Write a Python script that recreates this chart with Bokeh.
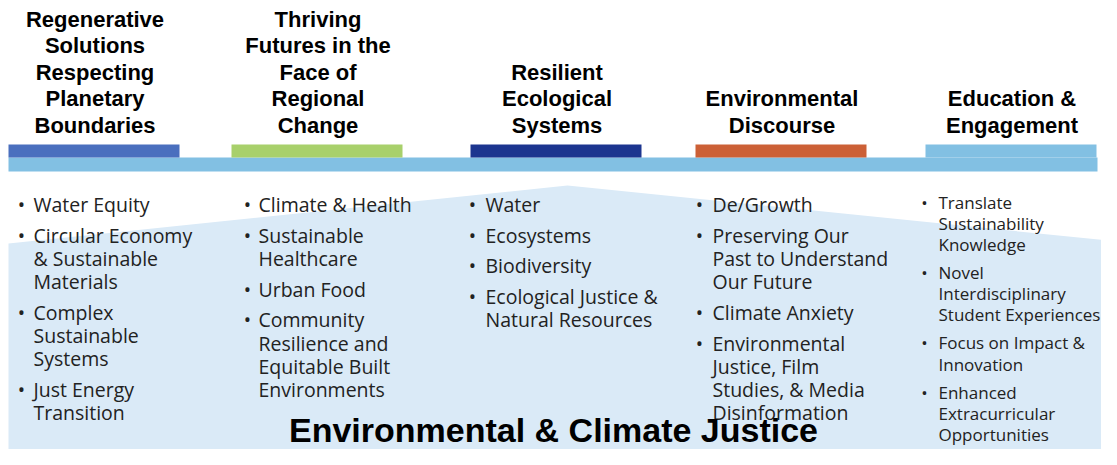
from bokeh.plotting import figure
from bokeh.models import Range1d
from bokeh.core.properties import value
from bokeh.embed import file_html
from bokeh.resources import INLINE

# ---------------- data ----------------
themes = [
    ["Regenerative", "Solutions", "Respecting", "Planetary", "Boundaries"],
    ["Thriving", "Futures in the", "Face of", "Regional", "Change"],
    ["Resilient", "Ecological", "Systems"],
    ["Environmental", "Discourse"],
    ["Education &", "Engagement"],
]
theme_colors = ["#4A6FBE", "#A8D06B", "#1C358F", "#CC6036", "#82C0E3"]

items = [
    [["Water Equity"], ["Circular Economy", "& Sustainable", "Materials"],
     ["Complex", "Sustainable", "Systems"], ["Just Energy", "Transition"]],
    [["Climate & Health"], ["Sustainable", "Healthcare"], ["Urban Food"],
     ["Community", "Resilience and", "Equitable Built", "Environments"]],
    [["Water"], ["Ecosystems"], ["Biodiversity"],
     ["Ecological Justice &", "Natural Resources"]],
    [["De/Growth"], ["Preserving Our", "Past to Understand", "Our Future"],
     ["Climate Anxiety"],
     ["Environmental", "Justice, Film", "Studies, & Media", "Disinformation"]],
    [["Translate", "Sustainability", "Knowledge"],
     ["Novel", "Interdisciplinary", "Student Experiences"],
     ["Focus on Impact &", "Innovation"],
     ["Enhanced", "Extracurricular", "Opportunities"]],
]
foundation = "Environmental & Climate Justice"

# ---------------- layout ----------------
BAR_LEFT = [8, 231, 470, 695, 925]
BAR_W = 171
BAR_TOP, BAR_BOT = 144, 157
BAND_L, BAND_R, BAND_TOP, BAND_BOT = 8, 1097, 157, 171
BULLET_X = [21, 247, 472, 699, 924]
TEXT_X = [33, 258, 485, 712, 938]
FONT_PX = [19.5, 19.5, 19.5, 19.5, 17]
LINE_H = [23.2, 23.2, 23.2, 23.2, 21.2]
ITEM_GAP = [7.5, 7.5, 7.5, 7.5, 6.8]
FIRST_BASE = [211.5, 211.5, 211.5, 211.5, 208]
HEAD_LAST_BASE = 133
HEAD_LINE_H = 26.5
HEAD_PX = 22
TITLE_PX = 34
K = 0.38  # baseline correction, fraction of font size


def base(y, px):
    return y - K * px


p = figure(width=1101, height=449, output_backend="svg", toolbar_location=None,
           x_range=Range1d(0, 1101), y_range=Range1d(449, 0),
           min_border=0, outline_line_color=None, background_fill_color="white")
p.axis.visible = False
p.grid.visible = False

# light blue foundation shape
p.patch([8, 567, 1117, 1117, 8], [243, 185, 241, 480, 480],
        fill_color="#DAEAF7", line_color=None)

# band
p.quad(left=[BAND_L], right=[BAND_R], top=[BAND_TOP], bottom=[BAND_BOT],
       fill_color="#82C0E3", line_color=None)
# theme bars
p.quad(left=BAR_LEFT, right=[b + BAR_W for b in BAR_LEFT],
       top=[BAR_TOP] * 5, bottom=[BAR_BOT] * 5,
       fill_color=theme_colors, line_color=None)

# headers
hx, hy, ht = [], [], []
for i, lines in enumerate(themes):
    cx = BAR_LEFT[i] + BAR_W / 2 + 1
    n = len(lines)
    for j, ln in enumerate(lines):
        hx.append(cx)
        hy.append(base(HEAD_LAST_BASE - (n - 1 - j) * HEAD_LINE_H, HEAD_PX))
        ht.append(ln)
p.text(x=hx, y=hy, text=ht, text_font=value("Liberation Sans"),
       text_font_style="bold", text_font_size=f"{HEAD_PX}px", text_color="#000000",
       text_align="center", text_baseline="alphabetic")

# bullet lists
for c, col in enumerate(items):
    bx, by, tx, ty, tt = [], [], [], [], []
    y = FIRST_BASE[c]
    px = FONT_PX[c]
    for item in col:
        bx.append(BULLET_X[c]); by.append(base(y, px))
        for ln in item:
            tx.append(TEXT_X[c]); ty.append(base(y, px)); tt.append(ln)
            y += LINE_H[c]
        y += ITEM_GAP[c]
    fs = f"{px}px"
    p.text(x=bx, y=by, text=["\u2022"] * len(bx), text_font=value("Open Sans"),
           text_font_size=fs, text_color="#222222", text_align="center",
           text_baseline="alphabetic")
    p.text(x=tx, y=ty, text=tt, text_font=value("Open Sans"),
           text_font_size=fs, text_color="#222222", text_align="left",
           text_baseline="alphabetic")

# foundation title
p.text(x=[553], y=[base(442, TITLE_PX)], text=[foundation],
       text_font=value("Liberation Sans"),
       text_font_style="bold", text_font_size=f"{TITLE_PX}px", text_color="#000000",
       text_align="center", text_baseline="alphabetic")

open("out.html", "w").write(file_html(p, INLINE))
